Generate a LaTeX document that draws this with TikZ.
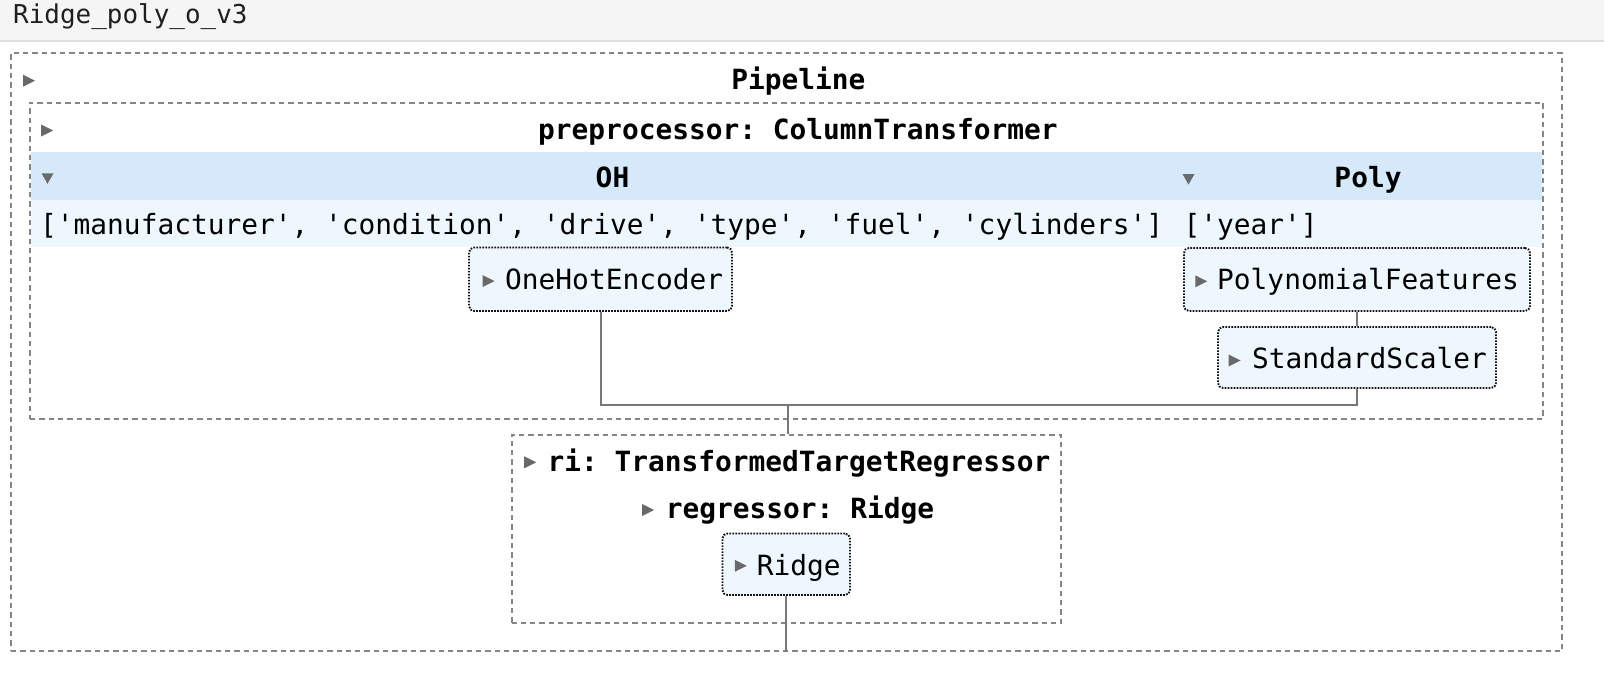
\documentclass[tikz,border=0pt]{standalone}
\usepackage{fontspec}
\setmonofont{DejaVu Sans Mono}
\definecolor{titlebg}{HTML}{F5F5F5}
\definecolor{titleline}{HTML}{E0E0E0}
\definecolor{hdrblue}{HTML}{D5E9FA}
\definecolor{rowblue}{HTML}{EFF7FE}
\definecolor{estfill}{HTML}{EFF7FE}
\definecolor{dashgray}{HTML}{858585}
\definecolor{linegray}{HTML}{787878}
\definecolor{icongray}{HTML}{696969}
\definecolor{dotblack}{HTML}{111111}
\tikzset{
  container/.style={draw=dashgray, line width=2pt, dash pattern=on 5.3pt off 4pt, rectangle, inner sep=0pt},
  estbox/.style={draw=dotblack, fill=estfill, line width=1.9pt, dash pattern=on 1.6pt off 1.4pt, rounded corners=5pt, rectangle, inner sep=0pt},
  txt/.style={inner sep=0pt, text=black, font=\ttfamily\fontsize{27.84}{33}\selectfont},
  btxt/.style={inner sep=0pt, text=black, font=\ttfamily\bfseries\fontsize{27.84}{33}\selectfont},
  titletxt/.style={inner sep=0pt, text=black!88, font=\ttfamily\fontsize{25.95}{30}\selectfont},
  conn/.style={draw=linegray, line width=2pt},
  icon/.style={fill=icongray},
}
\newcommand\rtri[2]{\fill[icon] ({#1-6},{#2-6}) -- ({#1+6},{#2}) -- ({#1-6},{#2+6}) -- cycle;}
\newcommand\dtri[2]{\fill[icon] ({#1-6},{#2-5}) -- ({#1+6},{#2-5}) -- ({#1},{#2+5.5}) -- cycle;}
\begin{document}
\begin{tikzpicture}[x=1pt,y=-1pt]
\useasboundingbox (0,0) rectangle (1604,686);
\fill[white] (0,0) rectangle (1604,686);
% title bar
\fill[titlebg] (0,0) rectangle (1604,40);
\draw[titleline, line width=1.5pt] (0,40.75) -- (1604,40.75);
\node[titletxt, anchor=base west] (title) at (13,23) {Ridge\_poly\_o\_v3};
% column header bands
\fill[hdrblue] (31,152) rectangle (1542,200);
\fill[rowblue] (31,200) rectangle (1542,246.7);
% containers
\node[container, minimum width=1551pt, minimum height=598pt] (pipe) at (786.5,352) {};
\node[container, minimum width=1513pt, minimum height=316pt] (prep) at (786.5,260.5) {};
\node[container, minimum width=549.5pt, minimum height=188pt] (ri) at (786.25,529) {};
% estimator boxes
\node[estbox, minimum width=263pt, minimum height=63.5pt] (ohe) at (600.5,279.25) {};
\node[estbox, minimum width=346pt, minimum height=63pt] (poly) at (1357,279.5) {};
\node[estbox, minimum width=278pt, minimum height=61pt] (sc) at (1357,357.5) {};
\node[estbox, minimum width=127.5pt, minimum height=61.5pt] (ridge) at (786.25,564.25) {};
% connectors
\coordinate (merge) at (787.5,404.5);
\draw[conn] (ohe.south) |- (merge) -| (sc.south);
\draw[conn] (merge) -- (merge |- ri.north);
\draw[conn] (poly.south) -- (sc.north);
\draw[conn] (ridge.south) -- (ridge.south |- pipe.south);
% icons
\rtri{29}{80.7}
\rtri{47.2}{130.5}
\dtri{47.5}{178.3}
\dtri{1188.5}{179}
\rtri{488.5}{281}
\rtri{1201.3}{281.3}
\rtri{1234.7}{360.5}
\rtri{530.2}{462.3}
\rtri{648.2}{510}
\rtri{740.8}{565.8}
% texts
\node[btxt, anchor=base] (tpipe) at (798.3,89) {Pipeline};
\node[btxt, anchor=base] (tprep) at (798,139.5) {preprocessor: ColumnTransformer};
\node[btxt, anchor=base] (toh) at (612.5,187) {OH};
\node[btxt, anchor=base] (tpoly) at (1368,187) {Poly};
\node[txt, anchor=base west] (tcols1) at (40,234) {['manufacturer', 'condition', 'drive', 'type', 'fuel', 'cylinders']};
\node[txt, anchor=base west] (tcols2) at (1183.3,234) {['year']};
\node[txt, anchor=base west] (tohe) at (505,289) {OneHotEncoder};
\node[txt, anchor=base west] (tpf) at (1217,289) {PolynomialFeatures};
\node[txt, anchor=base west] (tsc) at (1252,368) {StandardScaler};
\node[btxt, anchor=base west] (tri) at (547.3,471) {ri: TransformedTargetRegressor};
\node[btxt, anchor=base west] (treg) at (665.7,518) {regressor: Ridge};
\node[txt, anchor=base west] (tridge) at (756.7,575) {Ridge};
\end{tikzpicture}
\end{document}
